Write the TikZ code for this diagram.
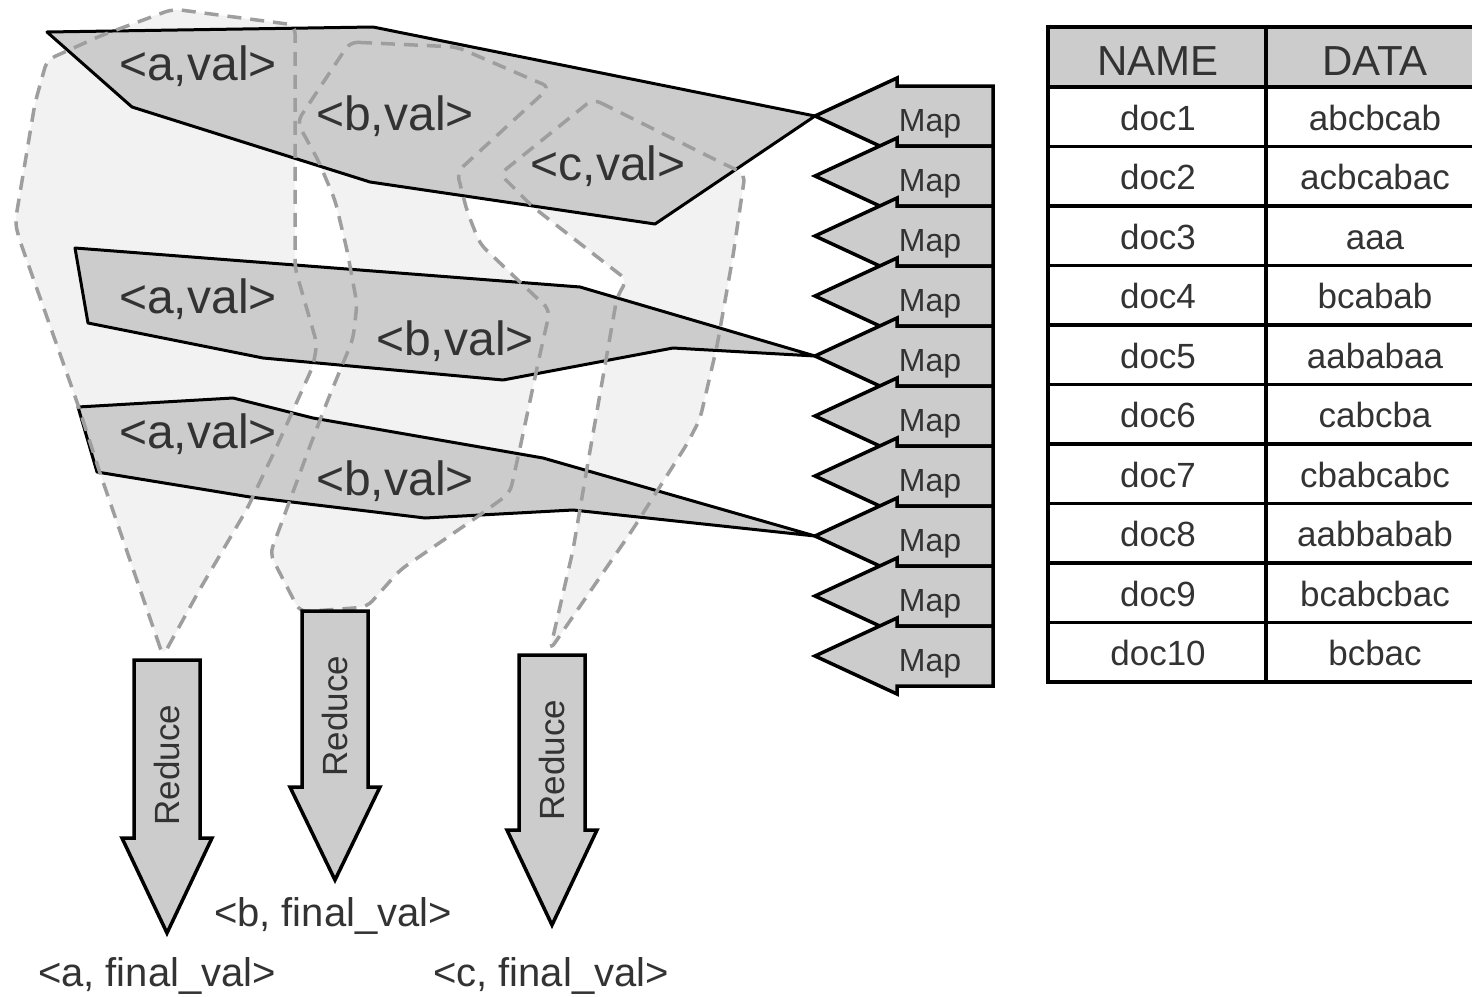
\documentclass[tikz,border=0pt]{standalone}
\usepackage{fontspec}
\setmainfont{Liberation Sans}
\usepackage{xcolor}
\usepackage{tikz}
\usetikzlibrary{calc}
\definecolor{colshape}{HTML}{CCCCCC}
\definecolor{colzone}{HTML}{F2F2F2}
\definecolor{coldash}{HTML}{9E9E9E}
\definecolor{coltext}{HTML}{333333}
\tikzstyle{kvgroup}=[draw=black, fill=colshape, line width=3pt, line join=round]
\tikzstyle{bigarrow}=[draw=black, fill=colshape, line width=3.5pt, line join=miter]
\tikzstyle{zonefill}=[fill=colzone, rounded corners=8pt]
\tikzstyle{zoneline}=[draw=coldash, line width=3.5pt, dash pattern=on 14pt off 9pt, rounded corners=8pt]
\tikzstyle{kvlabel}=[font=\fontsize{48}{50}\selectfont, text=coltext, inner sep=0pt, anchor=base]
\tikzstyle{maplabel}=[font=\fontsize{32}{34}\selectfont, text=coltext, inner sep=0pt, anchor=base]
\tikzstyle{redlabel}=[font=\fontsize{35}{37}\selectfont, text=coltext, inner sep=0pt, rotate=90]
\tikzstyle{outlabel}=[font=\fontsize{40}{42}\selectfont, text=coltext, inner sep=0pt, anchor=base]
\tikzstyle{headlabel}=[font=\fontsize{42}{44}\selectfont, text=coltext, inner sep=0pt, anchor=base]
\tikzstyle{celllabel}=[font=\fontsize{35}{37}\selectfont, text=coltext, inner sep=0pt, anchor=base]
\tikzstyle{gridline}=[line width=3.5pt, black, line join=miter]
% outlines of the three key zones
\def\zoneA{(163,656) -- (100,473) -- (77,402) -- (20,241) -- (15,223) -- (35,103) -- (47,60) -- (100,36) -- (173,9) -- (295,25) -- (295,268) -- (317,344) -- (313,366) -- (277,446) -- (247,509) -- (200,589) -- cycle}
\def\zoneB{(350,42) -- (457,47) -- (533,80) -- (550,87) -- (457,172) -- (467,211) -- (480,244) -- (540,301) -- (550,310) -- (540,354) -- (520,448) -- (510,493) -- (477,517) -- (400,570) -- (367,607) -- (300,612) -- (270,554) -- (310,446) -- (327,402) -- (353,339) -- (357,304) -- (347,250) -- (335,200) -- (318,160) -- (297,122) -- cycle}
\def\zoneC{(593,99) -- (720,162) -- (745,174) -- (733,256) -- (717,346) -- (700,419) -- (687,444) -- (633,529) -- (550,650) -- (573,550) -- (587,468) -- (607,354) -- (617,297) -- (627,280) -- (533,207) -- (500,174) -- cycle}

\begin{document}
\begin{tikzpicture}[x=1pt, y=-1pt]
  \useasboundingbox (0,0) rectangle (1472,996);

  % Zones behind everything
  \fill[zonefill] \zoneA;
  \fill[zonefill] \zoneB;
  \fill[zonefill] \zoneC;

  % Map arrows
  \foreach \i in {1,...,10}{
    \pgfmathsetmacro{\my}{116+60*(\i-1)}
    \coordinate (map\i) at (815,\my);
    \draw[bigarrow] (map\i) -- (897,\my-38) -- (897,\my-30) -- (993,\my-30)
      -- (993,\my+30) -- (897,\my+30) -- (897,\my+38) -- cycle;
    \node[maplabel] (maplbl\i) at (930,\my+15) {Map};
  }

  % Key/value groups leaving the maps
  \draw[kvgroup] (47,32) -- (373,27) -- (map1) -- (655,224) -- (370,182) -- (132,107) -- cycle;
  \draw[kvgroup] (75,248) -- (580,287) -- (map5) -- (673,348) -- (503,380) -- (263,358) -- (88,323) -- cycle;
  \draw[kvgroup] (78,407) -- (233,398) -- (313,418) -- (543,458) -- (map8) -- (573,510) -- (425,518)
    -- (250,497) -- (97,472) -- cycle;

  % Zone borders
  \draw[zoneline] \zoneA;
  \draw[zoneline] \zoneB;
  \draw[zoneline] \zoneC;

  \node[kvlabel] (kva1) at (198,80) {<a,val>};
  \node[kvlabel] (kvb1) at (395,130) {<b,val>};
  \node[kvlabel] (kvc1) at (608,180) {<c,val>};
  \node[kvlabel] (kva5) at (198,313) {<a,val>};
  \node[kvlabel] (kvb5) at (455,355) {<b,val>};
  \node[kvlabel] (kva8) at (198,448) {<a,val>};
  \node[kvlabel] (kvb8) at (395,495) {<b,val>};

  % Reduce arrows
  \foreach \nm/\cx/\ty/\ny/\tipy/\ly in {reda/167/660/838/933/765, redb/335/611/787/880/716, redc/552/655/830/925/760}{
    \draw[bigarrow] (\cx-33,\ty) -- (\cx+33,\ty) -- (\cx+33,\ny) -- (\cx+45,\ny) -- (\cx,\tipy)
      -- (\cx-45,\ny) -- (\cx-33,\ny) -- cycle;
    \coordinate (\nm) at (\cx,\tipy);
    \node[redlabel] (\nm lbl) at (\cx,\ly) {Reduce};
  }
  \node[outlabel] (outa) at (157,986) {<a, final\_val>};
  \node[outlabel] (outb) at (333,926) {<b, final\_val>};
  \node[outlabel] (outc) at (551,986) {<c, final\_val>};

  % Input table
  \fill[colshape] (1048,27) rectangle (1480,87);
  \foreach \k in {0,...,9}
    \draw[gridline] (1048,{87+59.5*\k}) -- (1480,{87+59.5*\k});
  \draw[gridline] (1480,27) -- (1048,27) -- (1048,682) -- (1480,682);
  \draw[gridline] (1266,27) -- (1266,682);
  \node[headlabel] (namehead) at (1158,75) {NAME};
  \node[headlabel] (datahead) at (1375,75) {DATA};
  \foreach \k/\dat in {1/abcbcab, 2/acbcabac, 3/aaa, 4/bcabab, 5/aababaa,
                       6/cabcba, 7/cbabcabc, 8/aabbabab, 9/bcabcbac, 10/bcbac}{
    \node[celllabel] (name\k) at (1158,{130+59.5*(\k-1)}) {doc\k};
    \node[celllabel] (data\k) at (1375,{130+59.5*(\k-1)}) {\dat};
  }
\end{tikzpicture}
\end{document}
